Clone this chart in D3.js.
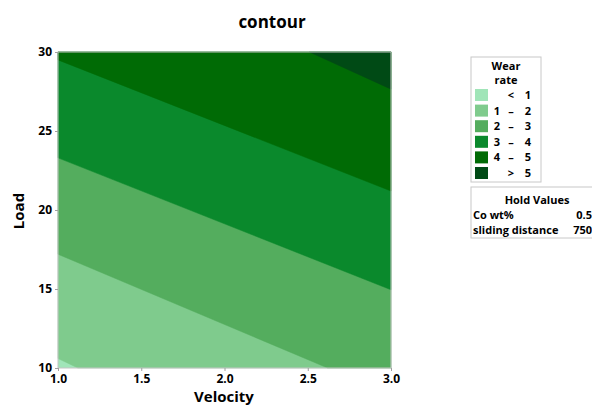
<!DOCTYPE html>
<html>
<head>
<meta charset="utf-8">
<script src="https://cdn.jsdelivr.net/npm/d3@7"></script>
<style>
  body { margin: 0; background: #fff; }
  text { font-family: "Open Sans", sans-serif; font-weight: bold; fill: #000; }
</style>
</head>
<body>
<script>
//variables
var width = 592;
var height = 407;

//data
var velocityTicks = [1.0, 1.5, 2.0, 2.5, 3.0];
var loadTicks = [10, 15, 20, 25, 30];

//contour levels of wear rate and where each boundary meets the frame (velocity, load)
var levels = [1, 2, 3, 4, 5];
var boundaryStart = [[1.0, 10.6], [1.0, 17.2], [1.0, 23.3], [1.0, 29.5], [2.51, 30]];
var boundaryEnd = [[1.12, 10], [2.62, 10], [3.0, 14.95], [3.0, 21.2], [3.0, 27.65]];

//legend
var bandLow = ["", "1", "2", "3", "4", ""];
var bandSep = ["<", "\u2013", "\u2013", "\u2013", "\u2013", ">"];
var bandHigh = ["1", "2", "3", "4", "5", "5"];
var bandColors = ["#a0e5b8", "#7fcb8d", "#54ad5e", "#0a892c", "#006b05", "#004a15"];

var holdNames = ["Co wt%", "sliding distance"];
var holdValues = ["0.5", "750"];

//create canvas
var canvas = d3.select("body").append("svg")
            .attr("width", width)
            .attr("height", height);

var x = d3.scaleLinear().domain([1.0, 3.0]).range([58, 391]);
var y = d3.scaleLinear().domain([10, 30]).range([368, 52]);

var xMin = x.domain()[0], xMax = x.domain()[1];
var yMin = y.domain()[0], yMax = y.domain()[1];

//region where rate is above a level: boundary line plus the frame corners up to the top right
function regionAbove(i) {
    var s = boundaryStart[i], e = boundaryEnd[i];
    var pts = [s, e];
    if (e[1] == yMin) pts.push([xMax, yMin]);
    pts.push([xMax, yMax]);
    if (s[0] == xMin) pts.push([xMin, yMax]);
    return pts;
}

var plot = canvas.append("g");

//lowest band covers everything
plot.append("rect")
    .attr("x", x(xMin))
    .attr("y", y(yMax))
    .attr("width", x(xMax) - x(xMin))
    .attr("height", y(yMin) - y(yMax))
    .attr("fill", bandColors[0]);

var line = d3.line()
            .x(function (d) { return x(d[0]) })
            .y(function (d) { return y(d[1]) });

plot.selectAll("path.band")
    .data(levels)
    .enter()
    .append("path")
    .attr("class", "band")
    .attr("d", function (d, i) { return line(regionAbove(i)) + "Z" })
    .attr("fill", function (d, i) { return bandColors[i + 1] })
    .attr("stroke", function (d, i) { return bandColors[i + 1] })
    .attr("stroke-width", 0.5);

//frame
plot.append("rect")
    .attr("x", x(xMin))
    .attr("y", y(yMax))
    .attr("width", x(xMax) - x(xMin))
    .attr("height", y(yMin) - y(yMax))
    .attr("fill", "none")
    .attr("stroke", "#c4c4c4")
    .attr("stroke-width", 1);

//axes
var xAxis = canvas.append("g")
    .attr("transform", "translate(0," + y(yMin) + ")")
    .call(d3.axisBottom(x).tickValues(velocityTicks).tickFormat(d3.format(".1f")).tickSize(3).tickPadding(3));

var yAxis = canvas.append("g")
    .attr("transform", "translate(" + x(xMin) + ",0)")
    .call(d3.axisLeft(y).tickValues(loadTicks).tickSize(3).tickPadding(3));

[xAxis, yAxis].forEach(function (a) {
    a.select(".domain").remove();
    a.selectAll(".tick line").attr("stroke", "#a0a0a0");
    a.selectAll(".tick text")
        .style("font-family", "'Open Sans', sans-serif")
        .style("font-weight", "bold")
        .style("font-size", "12px")
        .attr("fill", "#000");
});

//titles
canvas.append("text")
    .attr("x", 272).attr("y", 28)
    .attr("text-anchor", "middle")
    .style("font-size", "17px")
    .text("contour");

canvas.append("text")
    .attr("x", 224).attr("y", 402)
    .attr("text-anchor", "middle")
    .style("font-size", "15px")
    .text("Velocity");

canvas.append("text")
    .attr("transform", "translate(24,211) rotate(-90)")
    .attr("text-anchor", "middle")
    .style("font-size", "15px")
    .text("Load");

//legend box
var legend = canvas.append("g").style("font-size", "11px");
legend.append("rect")
    .attr("x", 471).attr("y", 57).attr("width", 70).attr("height", 125)
    .attr("fill", "#fff").attr("stroke", "#c8c8c8");
legend.append("text").attr("x", 506).attr("y", 70).attr("text-anchor", "middle").text("Wear");
legend.append("text").attr("x", 506).attr("y", 84).attr("text-anchor", "middle").text("rate");

var rows = legend.selectAll("g.row")
    .data(bandColors)
    .enter()
    .append("g")
    .attr("class", "row")
    .attr("transform", function (d, i) { return "translate(0," + (95 + i * 15.6) + ")" });

rows.append("rect")
    .attr("x", 475).attr("y", -6).attr("width", 13).attr("height", 12)
    .attr("fill", function (d) { return d });
rows.append("text").attr("x", 500).attr("y", 4).attr("text-anchor", "end")
    .text(function (d, i) { return bandLow[i] });
rows.append("text").attr("x", 511).attr("y", 4).attr("text-anchor", "middle")
    .text(function (d, i) { return bandSep[i] });
rows.append("text").attr("x", 531).attr("y", 4).attr("text-anchor", "end")
    .text(function (d, i) { return bandHigh[i] });

//hold values box
var hold = canvas.append("g").style("font-size", "11px");
hold.append("rect")
    .attr("x", 471).attr("y", 187).attr("width", 140).attr("height", 51)
    .attr("fill", "#fff").attr("stroke", "#c8c8c8");
hold.append("text").attr("x", 537).attr("y", 204).attr("text-anchor", "middle").text("Hold Values");
holdNames.forEach(function (n, i) {
    hold.append("text").attr("x", 473).attr("y", 219 + i * 15).text(n);
    hold.append("text").attr("x", 592).attr("y", 219 + i * 15).attr("text-anchor", "end").text(holdValues[i]);
});
</script>
</body>
</html>
